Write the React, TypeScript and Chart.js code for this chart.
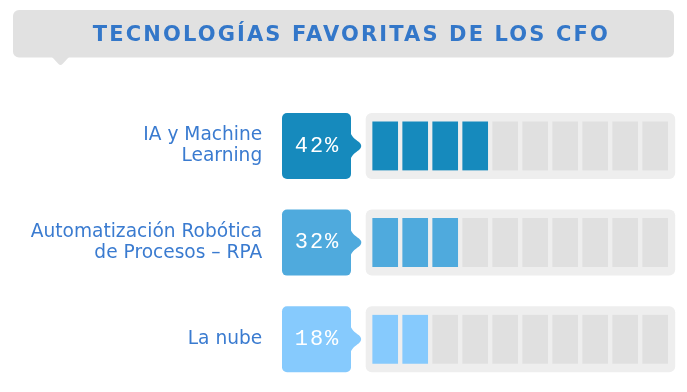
import React, { useEffect, useRef } from 'react';
import { Chart, registerables } from 'chart.js';

Chart.register(...registerables);

// ---- Data ----
const TITLE = 'TECNOLOGÍAS FAVORITAS DE LOS CFO';
const categories: string[][] = [
  ['IA y Machine', 'Learning'],
  ['Automatización Robótica', 'de Procesos – RPA'],
  ['La nube'],
];
const values: number[] = [42, 32, 18];
const valueLabels: string[] = ['42%', '32%', '18%'];
const filledCells: number[] = [4, 3, 2];
const CELLS = 10;

// ---- Styles ----
const rowColors = ['#168abd', '#4faadd', '#86cafd'];
const EMPTY = '#e0e0e0';
const PANEL = '#eeeeee';
const BANNER = '#e1e1e1';
const TITLE_COLOR = '#3377c9';
const LABEL_COLOR = '#3a7bd0';

const W = 687;
const H = 392;

const decorPlugin = {
  id: 'decor',
  beforeDraw(chart: any) {
    const ctx = chart.ctx as CanvasRenderingContext2D;
    // banner
    ctx.save();
    ctx.fillStyle = BANNER;
    ctx.beginPath();
    (ctx as any).roundRect(13, 10, 661, 47.5, 6);
    ctx.fill();
    ctx.beginPath();
    ctx.moveTo(52, 57);
    ctx.lineTo(58.5, 64);
    ctx.quadraticCurveTo(60.5, 66, 62.5, 64);
    ctx.lineTo(69, 57);
    ctx.closePath();
    ctx.fill();
    // title
    ctx.font = 'bold 21px "DejaVu Sans"';
    ctx.fillStyle = TITLE_COLOR;
    ctx.textBaseline = 'middle';
    ctx.textAlign = 'left';
    (ctx as any).letterSpacing = '0px';
    const w0 = ctx.measureText(TITLE).width;
    const target = 515;
    const n = [...TITLE].length;
    const sp = (target - w0) / (n - 1);
    (ctx as any).letterSpacing = sp + 'px';
    ctx.fillText(TITLE, 350.3 - target / 2, 36);
    ctx.restore();
  },
  beforeDatasetsDraw(chart: any) {
    const ctx = chart.ctx as CanvasRenderingContext2D;
    const xs = chart.scales.x;
    const ys = chart.scales.y;
    ctx.save();
    ctx.fillStyle = PANEL;
    categories.forEach((_, i) => {
      const cy = ys.getPixelForValue(i);
      const x0 = xs.getPixelForValue(0) - 4.5;
      const x1 = xs.getPixelForValue(CELLS) + 5;
      ctx.beginPath();
      (ctx as any).roundRect(x0, cy - 33, x1 - x0, 66, 6);
      ctx.fill();
    });
    ctx.restore();
  },
  afterDatasetsDraw(chart: any) {
    const ctx = chart.ctx as CanvasRenderingContext2D;
    const xs = chart.scales.x;
    const ys = chart.scales.y;
    ctx.save();
    categories.forEach((_, i) => {
      const cy = ys.getPixelForValue(i);
      const R = xs.getPixelForValue(0) - 19.2;
      const L = R - 69;
      const top = cy - 33;
      const h = 66;
      ctx.fillStyle = rowColors[i];
      ctx.beginPath();
      (ctx as any).roundRect(L, top, R - L, h, 5);
      ctx.fill();
      // pointer (smooth bump)
      ctx.beginPath();
      ctx.moveTo(R - 1, cy - 16);
      ctx.bezierCurveTo(R, cy - 9, R + 4, cy - 7, R + 8, cy - 4);
      ctx.quadraticCurveTo(R + 12.5, cy, R + 8, cy + 4);
      ctx.bezierCurveTo(R + 4, cy + 7, R, cy + 9, R - 1, cy + 16);
      ctx.closePath();
      ctx.fill();
      // value text
      ctx.fillStyle = '#ffffff';
      ctx.font = '22px "Liberation Mono"';
      ctx.textBaseline = 'middle';
      ctx.textAlign = 'center';
      (ctx as any).letterSpacing = '2px';
      ctx.fillText(valueLabels[i], (L + R) / 2 + 1, cy);
    });
    ctx.restore();
  },
};

export default function App() {
  const ref = useRef<HTMLCanvasElement | null>(null);
  useEffect(() => {
    document.body.style.margin = '0';
    const canvas = ref.current!;
    const datasets = Array.from({ length: CELLS }, (_, c) => ({
      label: 'cell ' + (c + 1),
      data: categories.map(() => 1),
      backgroundColor: categories.map((_, r) => (c < filledCells[r] ? rowColors[r] : EMPTY)),
      borderColor: 'rgba(0,0,0,0)',
      borderWidth: { left: 2.5, right: 2.5, top: 0, bottom: 0 },
      borderSkipped: false,
      barThickness: 49,
    }));
    const chart = new Chart(canvas, {
      type: 'bar',
      data: {
        labels: categories as any,
        datasets: datasets as any,
      },
      options: {
        indexAxis: 'y',
        responsive: false,
        animation: false,
        devicePixelRatio: 1,
        layout: { padding: { top: 97.6, bottom: 4.4, left: 0, right: 16.8 } },
        plugins: {
          legend: { display: false },
          tooltip: { enabled: false },
          title: { display: false },
        },
        scales: {
          x: { display: false, min: 0, max: CELLS, stacked: true },
          y: {
            stacked: true,
            grid: { display: false, drawTicks: false },
            border: { display: false },
            afterFit: (scale: any) => {
              scale.width = 370.2;
              scale.paddingTop = 0;
              scale.paddingBottom = 0;
            },
            ticks: {
              padding: 108,
              color: LABEL_COLOR,
              font: { family: '"DejaVu Sans"', size: 18.6, lineHeight: 1.13 },
            },
          },
        },
      },
      plugins: [decorPlugin],
    } as any);
    return () => chart.destroy();
  }, []);
  return (
    <div style={{ width: W, height: H }}>
      <canvas ref={ref} width={W} height={H} style={{ display: 'block' }} />
    </div>
  );
}
